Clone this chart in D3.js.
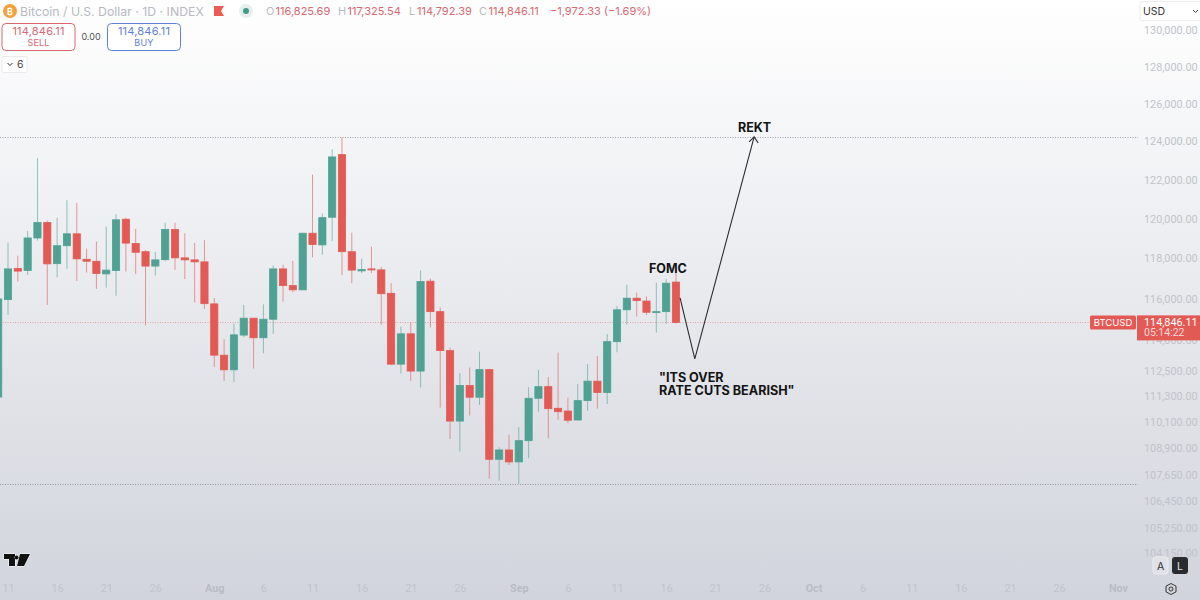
<!DOCTYPE html>
<html>
<head>
<meta charset="utf-8">
<title>BTCUSD 1D</title>
<script src="https://cdn.jsdelivr.net/npm/d3@7"></script>
<style>
  html, body { margin: 0; padding: 0; background: #fff; }
  svg { display: block; font-family: Inter, "Noto Sans", sans-serif; }
  .axis text { font-family: Roboto, sans-serif; font-size: 10.8px; }
  .note { font-family: Inter, sans-serif; font-weight: 700; fill: #141414; }
</style>
</head>
<body>
<svg id="chart" width="1200" height="600"></svg>
<script>
const startDate = '2025-07-10';
const opens = [111270, 115960, 117500, 117400, 119030, 119810, 117740, 118640, 119240, 117960, 117860, 117230, 117400, 119980, 118750, 118340, 117620, 117940, 119460, 118030, 117930, 117830, 115750, 113260, 112560, 114230, 115050, 114100, 115000, 117480, 116650, 116440, 119270, 118680, 120080, 123310, 118340, 117380, 117480, 117430, 116270, 112830, 114290, 112500, 116870, 115370, 113480, 110140, 111810, 111260, 112570, 108370, 108800, 108250, 109230, 111210, 111760, 110740, 110610, 110190, 111100, 112020, 111480, 113910, 115460, 116030, 115890, 115330, 115370, 116825.69];
const highs = [116000, 118800, 118140, 119390, 123120, 119910, 120050, 120950, 120820, 118490, 118850, 119610, 120240, 120060, 119490, 118430, 118330, 119800, 119800, 119270, 118780, 118920, 116040, 114030, 114780, 115700, 115060, 115730, 117650, 117680, 117880, 119290, 122270, 120270, 123590, 124220, 119300, 117990, 118590, 117570, 116770, 114640, 114840, 117400, 117000, 115570, 113620, 112400, 112670, 113430, 112590, 108920, 109500, 109860, 111730, 112560, 112210, 113380, 111240, 111880, 112840, 113220, 114280, 115650, 116690, 116300, 116120, 116800, 116970, 117325.54];
const lows = [111200, 115210, 116850, 117180, 118900, 115700, 117050, 117480, 116880, 117300, 116490, 116550, 116150, 117350, 117220, 114690, 117150, 117860, 117430, 116970, 115810, 115500, 112690, 112030, 111970, 114130, 112620, 113350, 114290, 115860, 116320, 116440, 118060, 118190, 118870, 117180, 116770, 117270, 117270, 114730, 112800, 112380, 112030, 111720, 114600, 110770, 109310, 108720, 110400, 110900, 107480, 107400, 108110, 107250, 108420, 110580, 109340, 110200, 110040, 110180, 110620, 110720, 110940, 113400, 114730, 115130, 115210, 114350, 114780, 114792.39];
const closes = [115990, 117480, 117370, 119030, 119810, 117730, 118640, 119240, 117980, 117860, 117250, 117420, 119950, 118770, 118310, 117620, 117930, 119460, 118030, 117930, 117830, 115760, 113260, 112560, 114240, 115050, 114100, 115000, 117480, 116650, 116440, 119270, 118700, 120060, 123190, 118340, 117420, 117450, 117430, 116250, 112830, 114290, 112500, 116850, 115370, 113480, 110140, 111810, 111260, 112570, 108370, 108800, 108250, 109230, 111210, 111760, 110720, 110580, 110180, 111100, 112020, 111480, 113910, 115460, 116030, 115910, 115340, 115370, 116770, 114846.11];

const priceTicks = [130000, 128000, 126000, 124000, 122000, 120000, 118000, 116000, 114000, 112500, 111300, 110100, 108900, 107650, 106450, 105250, 104150];
const dateTicks = ['2025-07-11', '2025-07-16', '2025-07-21', '2025-07-26', '2025-08-01', '2025-08-06', '2025-08-11', '2025-08-16', '2025-08-21', '2025-08-26', '2025-09-01', '2025-09-06', '2025-09-11', '2025-09-16', '2025-09-21', '2025-09-26', '2025-10-01', '2025-10-06', '2025-10-11', '2025-10-16', '2025-10-21', '2025-10-26', '2025-11-01'];

const highLine = 124220;
const lowLine = 107250;
const lastPrice = 114846.11;
const arrowPoints = [['2025-09-17T10:00', 116040], ['2025-09-18T22:00', 113080], ['2025-09-24T23:00', 124240]];

const legendParts = [['O', '116,825.69'], ['H', '117,325.54'], ['L', '114,792.39'], ['C', '114,846.11']];

const green = '#4fa194';
const red = '#e35a55';
const parseDay = d3.utcParse('%Y-%m-%d');
const parseHour = d3.utcParse('%Y-%m-%dT%H:%M');

const svg = d3.select('#chart');
const defs = svg.append('defs');
const bg = defs.append('linearGradient').attr('id', 'bg').attr('x1', 0).attr('x2', 0).attr('y1', 0).attr('y2', 1);
bg.append('stop').attr('offset', '0%').attr('stop-color', '#ffffff');
bg.append('stop').attr('offset', '100%').attr('stop-color', '#d1d4dc');
// clip is in the tick's own coordinates, the buttons hide the lower half of that label
defs.append('clipPath').attr('id', 'cut104').append('rect').attr('x', -5).attr('y', -10).attr('width', 70).attr('height', 13);

svg.append('rect').attr('width', 1200).attr('height', 600).attr('fill', 'url(#bg)');

const x = d3.scaleUtc().domain([parseDay('2025-07-11'), parseDay('2025-11-01')]).range([8, 1118]);
const y = d3.scaleLog().domain([130000, 104150]).range([30, 553]);

const candles = opens.map((o, i) => ({
  date: d3.utcDay.offset(parseDay(startDate), i),
  open: o, high: highs[i], low: lows[i], close: closes[i]
}));

// price lines sit under the candles
const lines = [[highLine, '#a4a7ad'], [lastPrice, '#dfa3a1'], [lowLine, '#94979e']];
svg.append('g').selectAll('line').data(lines).join('line')
  .attr('x1', 0).attr('x2', 1138)
  .attr('y1', (d) => Math.round(y(d[0])) + 0.5).attr('y2', (d) => Math.round(y(d[0])) + 0.5)
  .attr('stroke', (d) => d[1]).attr('stroke-width', 1).attr('stroke-dasharray', '1 1.5');

const candleG = svg.append('g').selectAll('g').data(candles).join('g')
  .attr('fill', (d) => (d.close >= d.open ? green : red))
  .attr('stroke', (d) => (d.close >= d.open ? green : red));
candleG.append('line')
  .attr('x1', (d) => x(d.date)).attr('x2', (d) => x(d.date))
  .attr('y1', (d) => y(d.high)).attr('y2', (d) => y(d.low))
  .attr('stroke-opacity', 0.6);
candleG.append('rect')
  .attr('x', (d) => x(d.date) - 3.6).attr('width', 7.2)
  .attr('y', (d) => y(Math.max(d.open, d.close)))
  .attr('height', (d) => Math.max(1, Math.abs(y(d.open) - y(d.close))))
  .attr('stroke-width', 0.8);

// axes
const yAxis = svg.append('g').attr('class', 'axis').attr('transform', 'translate(1144,0)')
  .call(d3.axisRight(y).tickValues(priceTicks).tickSize(0).tickPadding(0).tickFormat(d3.format(',.2f')));
yAxis.select('.domain').remove();
yAxis.selectAll('text').attr('fill', '#c0c3ca');
yAxis.selectAll('.tick').filter((d) => d === 104150).attr('clip-path', 'url(#cut104)');

const xAxis = svg.append('g').attr('class', 'axis').attr('transform', 'translate(0,584)')
  .call(d3.axisBottom(x).tickValues(dateTicks.map(parseDay)).tickSize(0).tickPadding(0)
    .tickFormat((d) => (d.getUTCDate() === 1 ? d3.utcFormat('%b')(d) : d3.utcFormat('%-d')(d))));
xAxis.select('.domain').remove();
xAxis.selectAll('text').attr('fill', (d) => (d.getUTCDate() === 1 ? '#b9bcc5' : '#c1c4cc'))
  .attr('font-weight', (d) => (d.getUTCDate() === 1 ? 700 : 400));

// hand drawn arrow
const arrowLine = d3.line().x((d) => x(parseHour(d[0]))).y((d) => y(d[1]));
svg.append('path').attr('d', arrowLine(arrowPoints))
  .attr('fill', 'none').attr('stroke', '#2b2d33').attr('stroke-width', 1.1);
const tip = arrowPoints[2];
const tipX = x(parseHour(tip[0]));
const tipY = y(tip[1]);
svg.append('path').attr('d', `M${tipX - 5},${tipY + 5}L${tipX},${tipY}L${tipX + 4},${tipY + 6}`)
  .attr('fill', 'none').attr('stroke', '#2b2d33').attr('stroke-width', 1.1);

const notes = [['REKT', 738, 132, 12.5], ['FOMC', 649, 273, 12.5], ['"ITS OVER', 659, 382, 12.6], ['RATE CUTS BEARISH"', 659, 395, 12.6]];
svg.selectAll('text.note').data(notes).join('text').attr('class', 'note')
  .attr('x', (d) => d[1]).attr('y', (d) => d[2]).attr('font-size', (d) => d[3]).text((d) => d[0]);

// header
const head = svg.append('g');
head.append('circle').attr('cx', 10).attr('cy', 11).attr('r', 7).attr('fill', '#f2a13b');
head.append('text').attr('x', 10).attr('y', 14.5).attr('text-anchor', 'middle').attr('font-size', 9).attr('font-weight', 700).attr('fill', '#fff').text('₿');
head.append('text').attr('x', 20).attr('y', 15.5).attr('font-size', 12.3).attr('fill', '#b7bac1').text('Bitcoin / U.S. Dollar · 1D · INDEX');
head.append('path').attr('d', 'M214,6H224L221,11L224,16H214Z').attr('fill', '#ec5b56');
head.append('circle').attr('cx', 246).attr('cy', 11).attr('r', 7).attr('fill', '#e6efed');
head.append('circle').attr('cx', 246).attr('cy', 11).attr('r', 3).attr('fill', '#3f9b86');

const legendX = [266, 338, 409, 479];
legendParts.forEach((p, i) => {
  head.append('text').attr('x', legendX[i]).attr('y', 15).attr('font-size', 11).attr('fill', '#b9bcc3').text(p[0]);
  head.append('text').attr('x', legendX[i] + (p[0] === 'L' ? 8 : 9.5)).attr('y', 15).attr('font-size', 11).attr('fill', '#d8686f').text(p[1]);
});
head.append('text').attr('x', 550).attr('y', 15).attr('font-size', 11).attr('fill', '#d8686f').text('−1,972.33 (−1.69%)');

function tradeBox(bx, color, label) {
  head.append('rect').attr('x', bx).attr('y', 23.5).attr('width', 73).attr('height', 27).attr('rx', 4)
    .attr('fill', '#fff').attr('stroke', color);
  head.append('text').attr('x', bx + 36.5).attr('y', 35).attr('text-anchor', 'middle').attr('font-size', 11).attr('letter-spacing', 0.2).attr('fill', color).text('114,846.11');
  head.append('text').attr('x', bx + 36.5).attr('y', 46).attr('text-anchor', 'middle').attr('font-size', 9).attr('letter-spacing', 0.2).attr('fill', color).text(label);
}
tradeBox(2, '#d8686f', 'SELL');
tradeBox(107.5, '#5f7fd8', 'BUY');
head.append('text').attr('x', 91).attr('y', 40).attr('text-anchor', 'middle').attr('font-size', 9).attr('fill', '#555').text('0.00');

head.append('rect').attr('x', 2).attr('y', 56.5).attr('width', 25).attr('height', 16).attr('rx', 2).attr('fill', '#fff').attr('stroke', '#e9eaed');
head.append('path').attr('d', 'M7.5,63L10,65.5L12.5,63').attr('fill', 'none').attr('stroke', '#333').attr('stroke-width', 1);
head.append('text').attr('x', 17).attr('y', 68).attr('font-size', 10.5).attr('fill', '#444').text('6');

// right side widgets
const side = svg.append('g');
side.append('rect').attr('x', 1140).attr('y', 1.5).attr('width', 62).attr('height', 19).attr('rx', 2).attr('fill', '#fff').attr('stroke', '#eceded');
side.append('text').attr('x', 1143).attr('y', 15).attr('font-size', 10.5).attr('fill', '#333').text('USD');
side.append('path').attr('d', 'M1193,10L1195.5,12.5L1198,10').attr('fill', 'none').attr('stroke', '#444').attr('stroke-width', 1);

side.append('rect').attr('x', 1090).attr('y', y(lastPrice) - 7).attr('width', 46).attr('height', 14).attr('rx', 1.5).attr('fill', red);
side.append('text').attr('x', 1113).attr('y', y(lastPrice) + 3.5).attr('text-anchor', 'middle').attr('font-size', 9.5).attr('fill', '#fff').text('BTCUSD');
side.append('rect').attr('x', 1137).attr('y', y(lastPrice) - 7).attr('width', 63).attr('height', 25).attr('fill', red);
side.append('text').attr('x', 1144).attr('y', y(lastPrice) + 3.5).attr('font-family', 'Roboto, sans-serif').attr('font-size', 10.8).attr('fill', '#fff').text('114,846.11');
side.append('text').attr('x', 1144).attr('y', y(lastPrice) + 14).attr('font-family', 'Roboto, sans-serif').attr('font-size', 10.5).attr('fill', '#f7d9d7').text('05:14:22');

side.append('rect').attr('x', 1153).attr('y', 557).attr('width', 15).attr('height', 17).attr('rx', 3).attr('fill', '#dfe1e6').attr('stroke', '#eceef1');
side.append('text').attr('x', 1160.5).attr('y', 569.5).attr('text-anchor', 'middle').attr('font-size', 10.5).attr('fill', '#333').text('A');
side.append('rect').attr('x', 1172).attr('y', 557).attr('width', 16).attr('height', 17).attr('rx', 3).attr('fill', '#2a2b2e');
side.append('text').attr('x', 1180).attr('y', 569.5).attr('text-anchor', 'middle').attr('font-size', 10.5).attr('fill', '#e6e6e6').text('L');
side.append('path').attr('d', 'M1171,583.5L1176,586.2V591.8L1171,594.5L1166,591.8V586.2Z').attr('fill', 'none').attr('stroke', '#333').attr('stroke-width', 1);
side.append('circle').attr('cx', 1171).attr('cy', 589).attr('r', 2).attr('fill', 'none').attr('stroke', '#333').attr('stroke-width', 1);

// tradingview mark
svg.append('path').attr('d', 'M4,554H15V566H9V559H4ZM20,554H30L24,566H17ZM16.5,555.5A2,2 0 1 0 16.6,555.5Z')
  .attr('fill', '#111').attr('stroke', '#fff').attr('stroke-width', 1).attr('paint-order', 'stroke');
</script>
</body>
</html>
